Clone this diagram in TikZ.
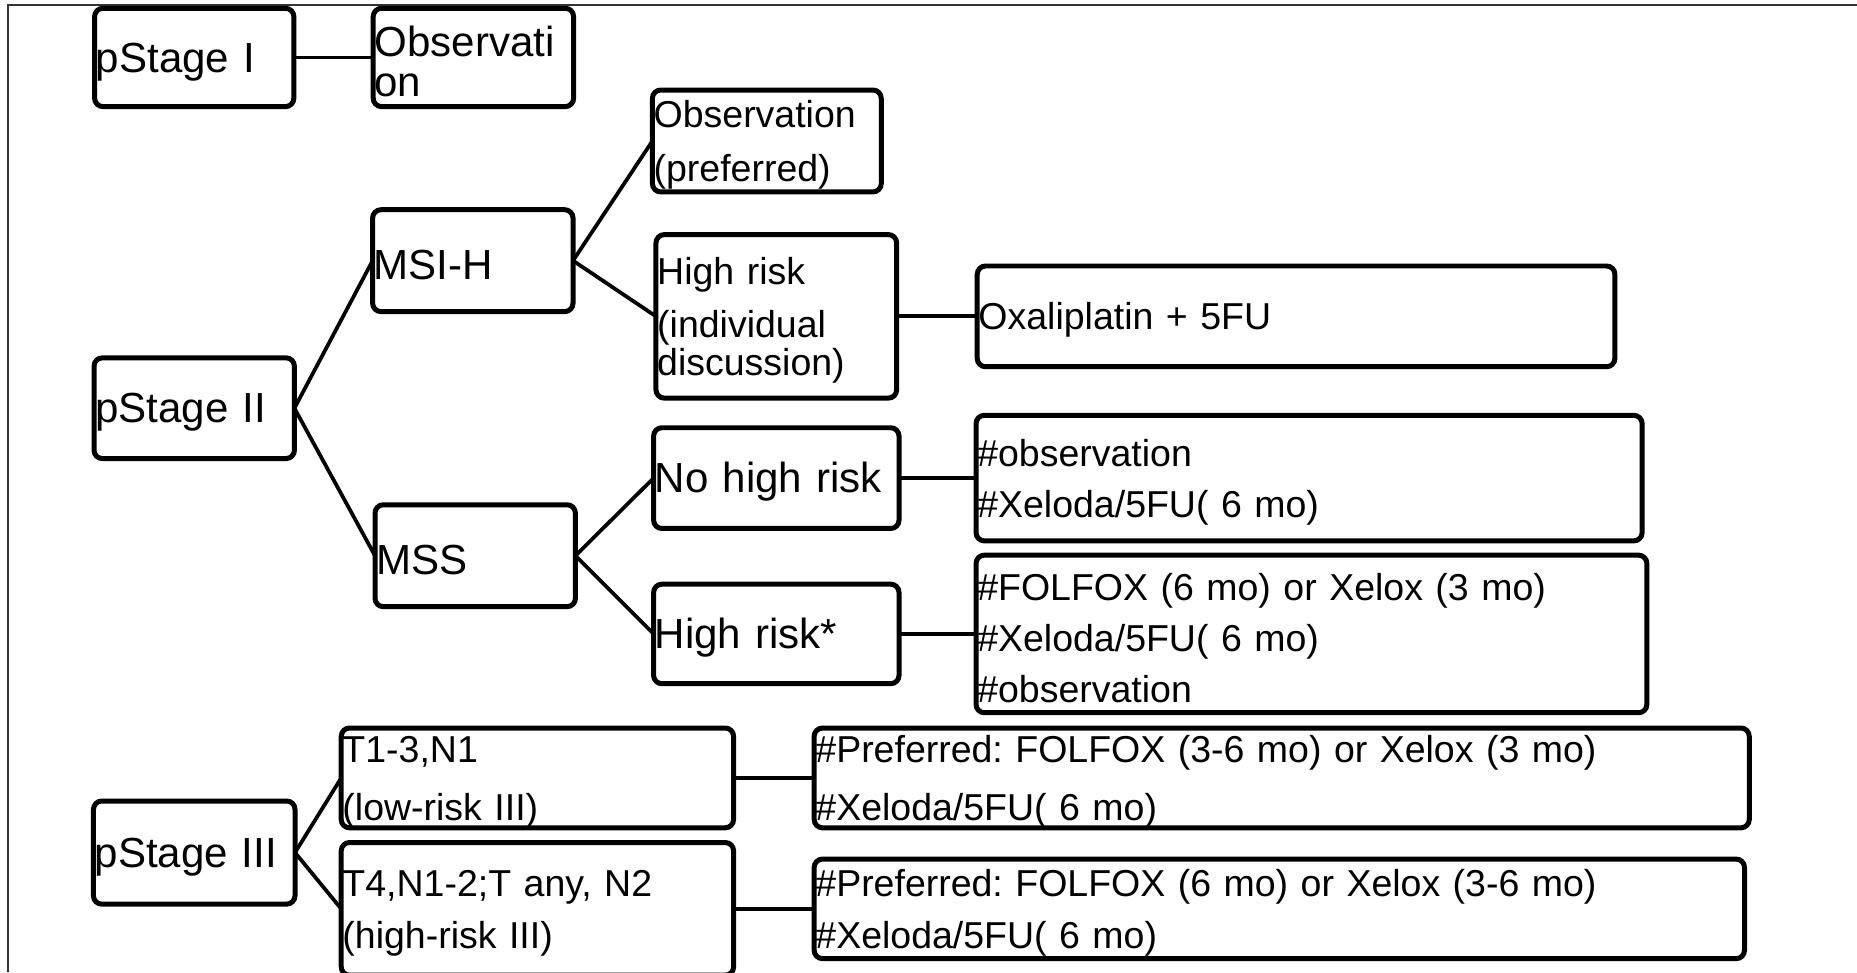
\documentclass[tikz,border=0pt]{standalone}
\usepackage{fontspec}
\setmainfont{Liberation Sans}
\usetikzlibrary{positioning}
\frenchspacing

\begin{document}
\begin{tikzpicture}[x=0.01cm, y=-0.01cm,
		box/.style={draw, line width=1.2pt, rounded corners=2pt, inner xsep=0.3pt, inner ysep=0pt, outer sep=0pt, align=left},
		bigtxt/.style={font=\fontsize{10.1}{12}\selectfont, execute at begin node={\rule{0pt}{9.2pt}}},
		smalltxt/.style={font=\fontsize{9}{#1}\selectfont, execute at begin node={\rule{0pt}{8.4pt}}},
		smalltxt/.default=12.2pt,
		conn/.style={line width=0.9pt}]
			\useasboundingbox (0,0) rectangle (1568,821);
			\coordinate (corner) at (7,4);
			\draw[line width=0.5pt, black!80] (1568,4) -- (corner) -- (7,821);

			\node[box, bigtxt, text width=1.66cm, minimum height=0.83cm] (s1) at (164,48.5) {pStage I};
			\node[box, bigtxt, text width=1.67cm, minimum height=0.83cm, font=\fontsize{10.1}{9.7}\selectfont] (obs1) [right=0.67cm of s1] {Observati\\on};

			\node[box, bigtxt, text width=1.67cm, minimum height=0.85cm] (s2) [below=2.12cm of s1] {pStage II};
			\node[box, bigtxt, text width=1.67cm, minimum height=0.86cm] (msih) [right=0.66cm of s2, yshift=1.245cm] {MSI-H};
			\node[box, bigtxt, text width=1.67cm, minimum height=0.86cm] (mss) [right=0.68cm of s2, yshift=-1.245cm] {MSS};

			\node[box, smalltxt=12.8pt, text width=1.91cm, minimum height=0.86cm] (obspref) [right=0.67cm of msih, yshift=1.01cm] {Observation\\(preferred)};
			\node[box, smalltxt=9.1pt, text width=2.01cm, minimum height=1.38cm] (hrind) [right=0.70cm of msih, yshift=-0.47cm] {High risk\\[3.7pt](individual\\discussion)};
			\node[box, smalltxt, text width=5.36cm, minimum height=0.85cm] (oxa) [right=0.68cm of hrind] {Oxaliplatin + 5FU};

			\node[box, bigtxt, text width=2.05cm, minimum height=0.85cm] (nohr) [right=0.66cm of mss, yshift=0.655cm] {No high risk};
			\node[box, bigtxt, text width=2.05cm, minimum height=0.84cm] (hrstar) [right=0.66cm of mss, yshift=-0.66cm] {High risk*};
			\node[box, smalltxt, text width=5.60cm, minimum height=1.06cm] (txobs) [right=0.65cm of nohr] {\#observation\\\#Xeloda/5FU( 6 mo)};
			\node[box, smalltxt, text width=5.64cm, minimum height=1.33cm] (txfolfox) [right=0.65cm of hrstar] {\#FOLFOX (6 mo) or Xelox (3 mo)\\\#Xeloda/5FU( 6 mo)\\\#observation};

			\node[box, bigtxt, text width=1.68cm, minimum height=0.87cm] (s3) [below=2.89cm of s2] {pStage III};
			\node[box, smalltxt=13.7pt, text width=3.29cm, minimum height=0.83cm] (lowrisk) [right=0.39cm of s3, yshift=0.63cm] {T1-3,N1\\(low-risk III)};
			\node[box, smalltxt=12.5pt, text width=3.29cm, minimum height=1.12cm] (highrisk) [right=0.39cm of s3, yshift=-0.475cm] {T4,N1-2;T any, N2\\(high-risk III)};
			\node[box, smalltxt=13.7pt, text width=7.87cm, minimum height=0.84cm] (txlow) [right=0.68cm of lowrisk] {\#Preferred: FOLFOX (3-6 mo) or Xelox (3 mo)\\\#Xeloda/5FU( 6 mo)};
			\node[box, smalltxt=12.5pt, text width=7.83cm, minimum height=0.84cm] (txhigh) [right=0.68cm of highrisk] {\#Preferred: FOLFOX (6 mo) or Xelox (3-6 mo)\\\#Xeloda/5FU( 6 mo)};

			\path[conn]
			(s1) edge (obs1)
			(s2.east) edge (msih.west)
			(s2.east) edge (mss.west)
			(msih.east) edge (obspref.west)
			(msih.east) edge (hrind.west)
			(hrind) edge (oxa)
			(mss.east) edge (nohr.west)
			(mss.east) edge (hrstar.west)
			(nohr) edge (txobs)
			(hrstar) edge (txfolfox)
			(s3.east) edge (lowrisk.west)
			(s3.east) edge (highrisk.west)
			(lowrisk) edge (txlow)
			(highrisk) edge (txhigh);
		\end{tikzpicture}
\end{document}
